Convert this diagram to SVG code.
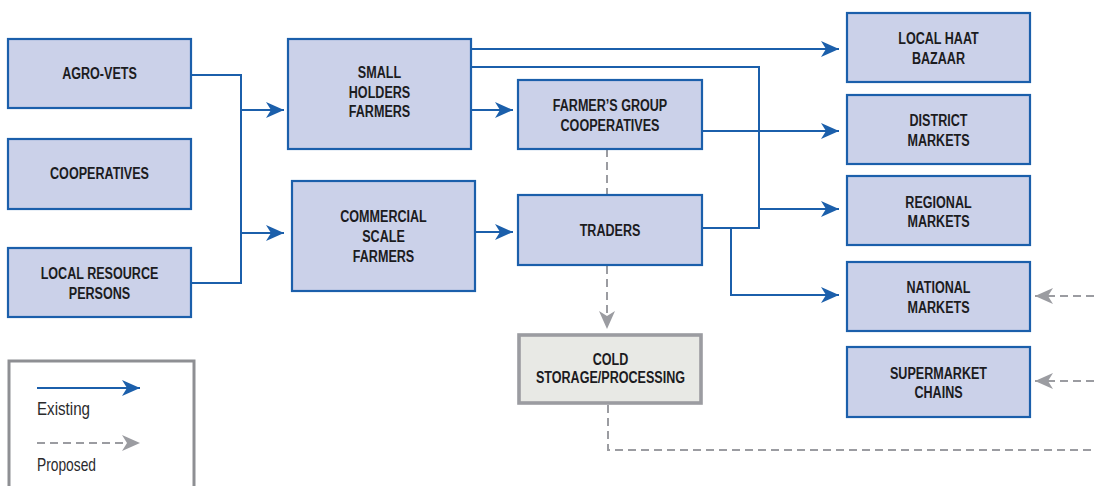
<svg xmlns="http://www.w3.org/2000/svg" width="1094" height="486" viewBox="0 0 1094 486">
  <defs>
    <marker id="arrow-blue" markerUnits="userSpaceOnUse" markerWidth="20" markerHeight="16" refX="18" refY="8" orient="auto">
      <path d="M0,0 L18,8 L0,16 L5,8 z" fill="#1b5fab"/>
    </marker>
    <marker id="arrow-gray" markerUnits="userSpaceOnUse" markerWidth="20" markerHeight="16" refX="18" refY="8" orient="auto">
      <path d="M0,0 L18,8 L0,16 L5,8 z" fill="#9b9ca1"/>
    </marker>
  </defs>
  <style>
    .box { fill: #cbd1e9; stroke: #1b5fab; stroke-width: 2.2; }
    .box-grey { fill: #e8e9e5; stroke: #9b9ca1; stroke-width: 3.6; }
    .label { font-family: "Liberation Sans", Arial, sans-serif; font-weight: bold; font-size: 17px; fill: #1c1c1f; text-anchor: middle; }
    .legend-text { font-family: "Liberation Sans", Arial, sans-serif; font-size: 18.5px; fill: #2a2a2d; }
    .existing { fill: none; stroke: #1b5fab; stroke-width: 2; }
    .proposed { fill: none; stroke: #9b9ca1; stroke-width: 2; stroke-dasharray: 8 5; }
  </style>
  <rect width="1094" height="486" fill="#ffffff"/>

  <!-- connectors -->
  <g id="connectors">
    <!-- inputs to farmers -->
    <path class="existing" d="M191,75 H241 V283 H191"/>
    <path class="existing" d="M241,110 H284" marker-end="url(#arrow-blue)"/>
    <path class="existing" d="M241,233 H284" marker-end="url(#arrow-blue)"/>
    <!-- farmers to intermediaries -->
    <path class="existing" d="M471,110 H513" marker-end="url(#arrow-blue)"/>
    <path class="existing" d="M475,232 H513" marker-end="url(#arrow-blue)"/>
    <!-- to markets -->
    <path class="existing" d="M471,49 H839" marker-end="url(#arrow-blue)"/>
    <path class="existing" d="M702,131 H839" marker-end="url(#arrow-blue)"/>
    <path class="existing" d="M471,67 H759 V228 H702"/>
    <path class="existing" d="M759,209 H839" marker-end="url(#arrow-blue)"/>
    <path class="existing" d="M731,228 V295 H839" marker-end="url(#arrow-blue)"/>
    <!-- proposed links -->
    <path class="proposed" d="M607,149 V195"/>
    <path class="proposed" d="M607,266 V329" marker-end="url(#arrow-gray)"/>
    <path class="proposed" d="M608,405 V450 H1094"/>
    <path class="proposed" d="M1094,296 H1035" marker-end="url(#arrow-gray)"/>
    <path class="proposed" d="M1094,381 H1035" marker-end="url(#arrow-gray)"/>
  </g>

  <!-- input providers -->
  <g id="agro-vets">
    <rect class="box" x="8" y="39" width="183" height="69"/>
    <g transform="translate(99.5 0) scale(0.74 1)">
      <text class="label" x="0" y="79">AGRO-VETS</text>
    </g>
  </g>
  <g id="cooperatives">
    <rect class="box" x="8" y="139" width="183" height="70"/>
    <g transform="translate(99.5 0) scale(0.74 1)">
      <text class="label" x="0" y="179">COOPERATIVES</text>
    </g>
  </g>
  <g id="local-resource-persons">
    <rect class="box" x="8" y="248" width="183" height="69"/>
    <g transform="translate(99.5 0) scale(0.74 1)">
      <text class="label" x="0" y="279">LOCAL RESOURCE</text>
      <text class="label" x="0" y="299">PERSONS</text>
    </g>
  </g>

  <!-- producers -->
  <g id="small-holders-farmers">
    <rect class="box" x="288" y="39" width="183" height="110"/>
    <g transform="translate(379.5 0) scale(0.74 1)">
      <text class="label" x="0" y="78">SMALL</text>
      <text class="label" x="0" y="98">HOLDERS</text>
      <text class="label" x="0" y="117">FARMERS</text>
    </g>
  </g>
  <g id="commercial-scale-farmers">
    <rect class="box" x="292" y="181" width="183" height="110"/>
    <g transform="translate(383.5 0) scale(0.74 1)">
      <text class="label" x="0" y="222">COMMERCIAL</text>
      <text class="label" x="0" y="242">SCALE</text>
      <text class="label" x="0" y="262">FARMERS</text>
    </g>
  </g>

  <!-- intermediaries -->
  <g id="farmers-group-cooperatives">
    <rect class="box" x="518" y="80" width="184" height="69"/>
    <g transform="translate(610 0) scale(0.74 1)">
      <text class="label" x="0" y="111">FARMER’S GROUP</text>
      <text class="label" x="0" y="131">COOPERATIVES</text>
    </g>
  </g>
  <g id="traders">
    <rect class="box" x="518" y="195" width="184" height="70"/>
    <g transform="translate(610 0) scale(0.74 1)">
      <text class="label" x="0" y="236">TRADERS</text>
    </g>
  </g>
  <g id="cold-storage">
    <rect class="box-grey" x="519" y="335" width="182" height="68"/>
    <g transform="translate(610.5 0) scale(0.74 1)">
      <text class="label" x="0" y="365">COLD</text>
      <text class="label" x="0" y="383.5">STORAGE/PROCESSING</text>
    </g>
  </g>

  <!-- markets -->
  <g id="local-haat-bazaar">
    <rect class="box" x="847" y="13" width="183" height="69"/>
    <g transform="translate(938.5 0) scale(0.74 1)">
      <text class="label" x="0" y="44">LOCAL HAAT</text>
      <text class="label" x="0" y="64">BAZAAR</text>
    </g>
  </g>
  <g id="district-markets">
    <rect class="box" x="847" y="95" width="183" height="69"/>
    <g transform="translate(938.5 0) scale(0.74 1)">
      <text class="label" x="0" y="126">DISTRICT</text>
      <text class="label" x="0" y="146">MARKETS</text>
    </g>
  </g>
  <g id="regional-markets">
    <rect class="box" x="847" y="176" width="183" height="69"/>
    <g transform="translate(938.5 0) scale(0.74 1)">
      <text class="label" x="0" y="208">REGIONAL</text>
      <text class="label" x="0" y="227">MARKETS</text>
    </g>
  </g>
  <g id="national-markets">
    <rect class="box" x="847" y="262" width="183" height="69"/>
    <g transform="translate(938.5 0) scale(0.74 1)">
      <text class="label" x="0" y="293">NATIONAL</text>
      <text class="label" x="0" y="313">MARKETS</text>
    </g>
  </g>
  <g id="supermarket-chains">
    <rect class="box" x="847" y="347" width="183" height="70"/>
    <g transform="translate(938.5 0) scale(0.74 1)">
      <text class="label" x="0" y="379">SUPERMARKET</text>
      <text class="label" x="0" y="398">CHAINS</text>
    </g>
  </g>

  <!-- legend -->
  <g id="legend">
    <rect x="9" y="361" width="185" height="130" fill="#ffffff" stroke="#8e8f93" stroke-width="3"/>
    <path class="existing" d="M37,388 H140" marker-end="url(#arrow-blue)"/>
    <text class="legend-text" x="37" y="415" textLength="53" lengthAdjust="spacingAndGlyphs">Existing</text>
    <path class="proposed" d="M37,443 H140" marker-end="url(#arrow-gray)"/>
    <text class="legend-text" x="37" y="470.5" textLength="59" lengthAdjust="spacingAndGlyphs">Proposed</text>
  </g>
</svg>
